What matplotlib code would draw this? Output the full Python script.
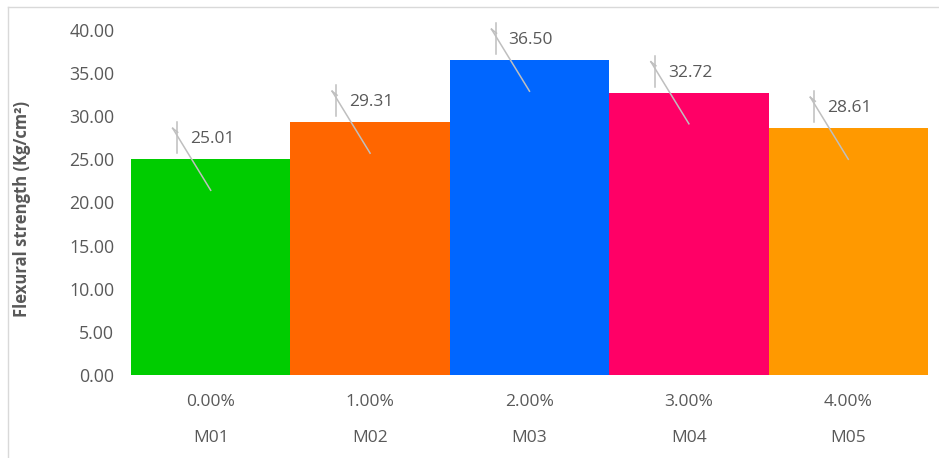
import matplotlib
matplotlib.use("Agg")
import matplotlib.pyplot as plt
from matplotlib.lines import Line2D

plt.rcParams['font.family'] = ['Open Sans', 'DejaVu Sans']

percent_labels = ["0.00%", "1.00%", "2.00%", "3.00%", "4.00%"]
mix_labels = ["M01", "M02", "M03", "M04", "M05"]
strength = [25.01, 29.31, 36.50, 32.72, 28.61]
bar_colors = ["#00CC00", "#FF6600", "#0066FF", "#FF0066", "#FF9900"]

W, H = 939, 458
TXT = "#595959"
fig = plt.figure(figsize=(W / 100, H / 100), dpi=100)
ax = fig.add_axes([131 / W, 1 - 375 / H, (928 - 131) / W, (375 - 30) / H])

x = list(range(len(strength)))
ax.bar(x, strength, width=1.0, color=bar_colors, zorder=2)
ax.set_xlim(-0.5, len(strength) - 0.5)
ax.set_ylim(0, 40)
ax.set_yticks([0, 5, 10, 15, 20, 25, 30, 35, 40])
ax.set_yticklabels([f"{v:.2f}" for v in ax.get_yticks()], fontsize=12.8, color=TXT)
ax.tick_params(axis='y', length=0, pad=12)
ax.set_xticks([])
for s in ax.spines.values():
    s.set_visible(False)

fig.text(22 / W, 1 - 209 / H, "Flexural strength (Kg/cm²)", rotation=90, ha='center', va='center',
         fontsize=12, fontweight='bold', color=TXT)

trans = ax.get_xaxis_transform()
for i in x:
    ax.text(i, -27 / 345, percent_labels[i], transform=trans, ha='center', va='center',
            fontsize=12.5, color=TXT)
    ax.text(i, -63 / 345, mix_labels[i], transform=trans, ha='center', va='center',
            fontsize=12.5, color=TXT)

fig.canvas.draw()
segs = [((-34, 37), (-34, 6)), ((-38, 31), (0, -31)), ((-38, 31), (-33, 27))]
for i, v in zip(x, strength):
    base = ax.transData.transform((i, v))
    for (x0, y0), (x1, y1) in segs:
        fig.add_artist(Line2D([base[0] + x0, base[0] + x1], [base[1] + y0, base[1] + y1],
                              transform=None, color="#BFBFBF", lw=1.1, zorder=5))
    fig.text((base[0] - 21) / W, (base[1] + 20) / H, f"{v:.2f}", ha='left', va='center',
             fontsize=12.5, color=TXT, zorder=6)

# outer frame (left and top edges)
fig.add_artist(Line2D([8 / W, 8 / W], [0, 1 - 7 / H], transform=fig.transFigure, color="#D9D9D9", lw=1))
fig.add_artist(Line2D([8 / W, 1], [1 - 7 / H, 1 - 7 / H], transform=fig.transFigure, color="#D9D9D9", lw=1))

fig.savefig("out.png", dpi=100)
